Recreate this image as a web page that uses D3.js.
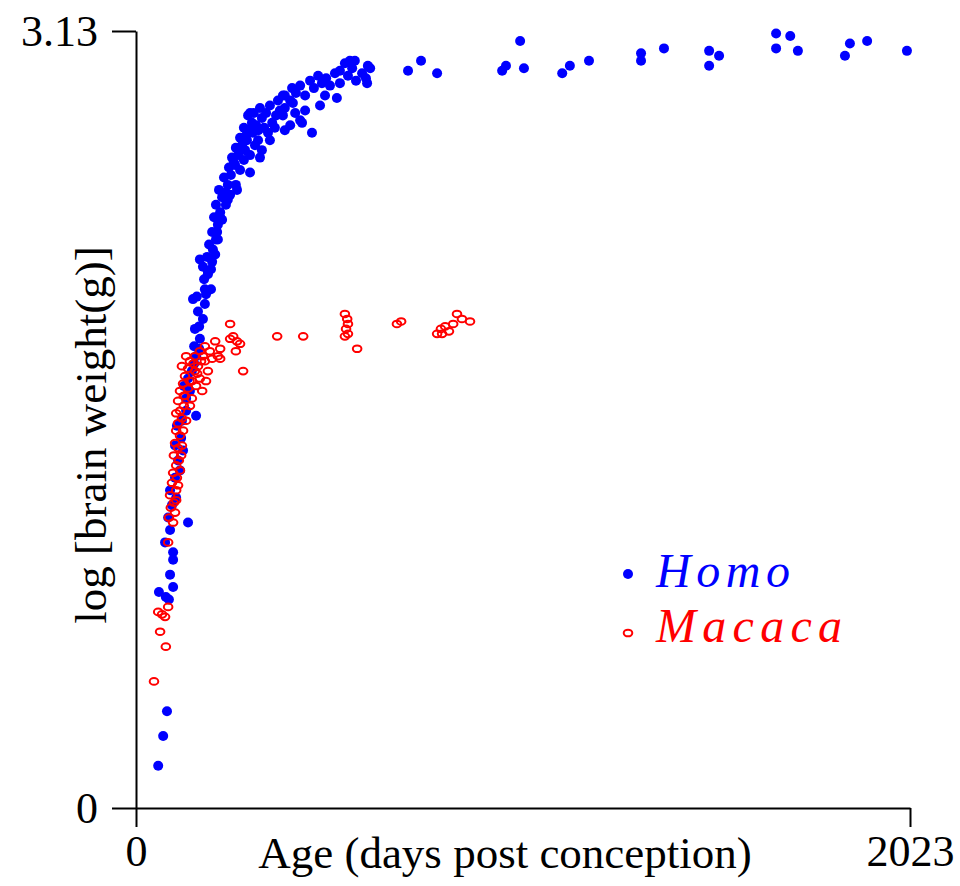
<!DOCTYPE html>
<html>
<style>
body { margin: 0; background: #fff; }
.axis path, .axis line { stroke: #000; stroke-width: 2px; }
.axis text { fill: #000; }
.homo { fill: #0000ff; }
.macaca { fill: none; stroke: #ff0000; stroke-width: 2px; }
</style>
<svg width="960" height="886"></svg>
<script src="https://cdn.jsdelivr.net/npm/d3@7"></script>
<script>
// [age in days post conception, log10 brain weight (g)]
var homo = [
  [58,0.17],[71,0.29],[81,0.39],[60,0.87],[78,0.85],[86,0.84],[97,0.89],[89,0.94],[97,1.00],[97,1.03],
  [76,1.07],[89,1.12],[136,1.15],[84,1.17],[94,1.22],[105,1.25],[89,1.28],[102,1.33],[115,1.36],[110,1.40],
  [123,1.44],[102,1.46],[118,1.49],[107,1.54],[120,1.56],[131,1.60],[157,1.58],[131,1.65],[141,1.68],[125,1.70],
  [136,1.73],[146,1.76],[152,1.79],[157,1.82],[165,1.85],[152,1.86],[167,1.89],[154,1.93],[165,1.94],[175,1.97],
  [162,2.00],[180,2.03],[149,2.05],[159,2.06],[183,2.07],[196,2.09],[178,2.13],[188,2.16],[175,2.18],[199,2.20],
  [186,2.22],[201,2.25],[191,2.27],[209,2.29],[199,2.32],[214,2.35],[204,2.38],[220,2.40],[209,2.43],[225,2.46],
  [235,2.48],[217,2.49],[240,2.51],[230,2.54],[248,2.55],[243,2.58],[259,2.59],[251,2.62],[267,2.63],[261,2.66],
  [277,2.67],[272,2.70],[288,2.71],[282,2.74],[298,2.73],[303,2.76],[314,2.75],[293,2.79],[308,2.80],[329,2.78],
  [324,2.82],[340,2.80],[350,2.83],[335,2.74],[356,2.76],[366,2.79],[376,2.81],[371,2.85],[389,2.87],[403,2.85],
  [408,2.90],[418,2.88],[429,2.91],[442,2.87],[455,2.93],[465,2.90],[476,2.95],[486,2.92],[497,2.94],[507,2.91],
  [520,2.96],[533,2.97],[546,3.00],[554,2.95],[565,2.98],[575,2.93],[591,2.96],[601,2.94],[612,2.98],[572,3.01],
  [384,2.79],[403,2.75],[389,2.73],[460,2.72],[429,2.77],[416,2.80],[319,2.69],[329,2.65],[298,2.63],[282,2.61],
  [272,2.57],[261,2.51],[246,2.47],[235,2.43],[225,2.37],[214,2.29],[207,2.23],[196,2.17],[298,2.80],[434,2.76],
  [481,2.83],[525,2.86],[533,2.92],[559,3.01],[606,2.99],[604,2.92],[384,2.87],[410,2.84],[350,2.69],[324,2.62],
  [298,2.56],[264,2.49],[240,2.45],[220,2.38],[212,2.32],[167,2.21],[188,2.15],[180,2.09],[311,2.67],[345,2.72],
  [363,2.74],[285,2.65],[389,2.82],[442,2.81],[494,2.87],[256,2.60],[270,2.66],[290,2.69],[305,2.72],[320,2.73],
  [711,2.97],[745,3.01],[787,2.96],[1004,3.09],[967,2.99],[957,2.97],[1014,2.98],[1114,2.96],[1134,2.99],[1184,3.01],
  [1320,3.04],[1320,3.01],[1380,3.06],[1498,3.05],[1498,2.99],[1524,3.03],[1673,3.12],[1710,3.11],[1673,3.06],[1730,3.05],
  [1866,3.08],[1911,3.09],[1853,3.03],[2015,3.05]
];

var macaca = [
  [47,0.51],[78,0.65],[63,0.71],[58,0.79],[68,0.78],[76,0.77],[84,0.81],[84,1.07],[97,1.15],[86,1.17],
  [102,1.19],[91,1.21],[99,1.23],[89,1.26],[105,1.28],[94,1.31],[107,1.33],[97,1.35],[105,1.38],[112,1.40],
  [99,1.42],[110,1.45],[102,1.47],[115,1.50],[105,1.52],[110,1.55],[120,1.57],[105,1.59],[115,1.60],[125,1.62],
  [110,1.64],[146,1.65],[128,1.66],[115,1.68],[136,1.69],[157,1.70],[123,1.71],[146,1.72],[167,1.73],[128,1.74],
  [154,1.76],[188,1.76],[136,1.77],[162,1.78],[180,1.80],[141,1.80],[199,1.81],[154,1.82],[167,1.84],[193,1.84],
  [180,1.86],[207,1.88],[220,1.85],[175,1.82],[214,1.82],[220,1.81],[246,1.95],[254,1.90],[246,1.89],[264,1.88],
  [272,1.87],[261,1.84],[280,1.76],[369,1.90],[437,1.90],[546,1.99],[552,1.97],[554,1.95],[549,1.93],[554,1.91],
  [546,1.90],[578,1.85],[682,1.95],[693,1.96],[787,1.91],[797,1.93],[808,1.94],[818,1.92],[829,1.95],[839,1.99],
  [852,1.97],[873,1.96],[800,1.91],[131,1.82],[120,1.78],[183,1.72],[173,1.68],[141,1.62],[131,1.56],[123,1.52],
  [120,1.46],[118,1.42],[115,1.36],[110,1.30],[105,1.24],[150,1.79],[170,1.80],[160,1.75],[140,1.72],[125,1.66]
];

var xTicks = [0, 2023],
    yTicks = [0, 3.13];

var legendItems = ["Homo", "Macaca"];

var svg = d3.select("svg"),
    font = "'Liberation Serif', 'Times New Roman', serif";

var x = d3.scaleLinear().domain([0, 2023]).range([136, 910]),
    y = d3.scaleLinear().domain([0, 3.13]).range([808, 31]);

svg.append("g")
    .attr("class", "axis")
    .attr("transform", "translate(0,808)")
    .call(d3.axisBottom(x).tickValues(xTicks).tickFormat(d3.format("d"))
        .tickSize(19).tickSizeOuter(0).tickPadding(8));

svg.append("g")
    .attr("class", "axis")
    .attr("transform", "translate(136,0)")
    .call(d3.axisLeft(y).tickValues(yTicks).tickFormat(function(d) { return d === 0 ? "0" : "3.13"; })
        .tickSize(24).tickSizeOuter(0).tickPadding(14));

svg.selectAll(".axis text")
    .attr("font-family", font)
    .attr("font-size", 44);

// points
svg.append("g")
  .selectAll("circle")
  .data(homo)
  .enter().append("circle")
    .attr("class", "homo")
    .attr("cx", function(d) { return x(d[0]); })
    .attr("cy", function(d) { return y(d[1]); })
    .attr("r", 5);

svg.append("g")
  .selectAll("ellipse")
  .data(macaca)
  .enter().append("ellipse")
    .attr("class", "macaca")
    .attr("cx", function(d) { return x(d[0]); })
    .attr("cy", function(d) { return y(d[1]); })
    .attr("rx", 4.3)
    .attr("ry", 3.3);

// axis titles
svg.append("text")
    .attr("x", 505)
    .attr("y", 868)
    .attr("text-anchor", "middle")
    .attr("font-family", font)
    .attr("font-size", 45)
    .text("Age (days post conception)");

svg.append("text")
    .attr("transform", "translate(106,435) rotate(-90)")
    .attr("text-anchor", "middle")
    .attr("font-family", font)
    .attr("font-size", 45)
    .text("log [brain weight(g)]");

// legend
var legend = svg.append("g")
  .selectAll("g")
  .data(legendItems)
  .enter().append("g")
    .attr("transform", function(d, i) { return "translate(628," + (574 + i * 59) + ")"; });

legend.each(function(d, i) {
  var g = d3.select(this);
  if (i === 0) {
    g.append("circle").attr("class", "homo").attr("r", 5);
  } else {
    g.append("ellipse").attr("class", "macaca").attr("rx", 4.3).attr("ry", 3.3);
  }
  g.append("text")
      .attr("x", 28)
      .attr("y", i === 0 ? 13 : 9)
      .attr("font-family", font)
      .attr("font-style", "italic")
      .attr("font-size", 48)
      .attr("textLength", i === 0 ? 134 : 186)
      .attr("lengthAdjust", "spacing")
      .attr("fill", i === 0 ? "#0000ff" : "#ff0000")
      .text(d);
});
</script>
</html>
